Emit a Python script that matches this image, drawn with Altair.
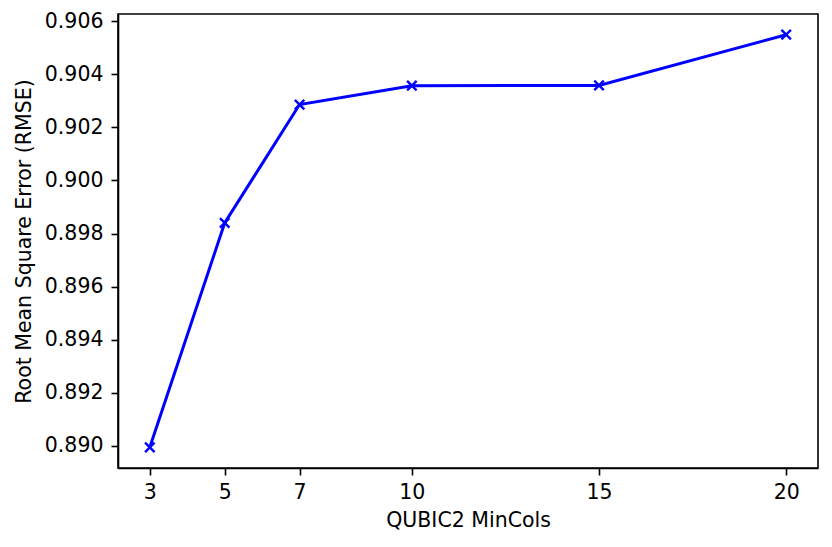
import altair as alt
import pandas as pd

min_cols = [3, 5, 7, 10, 15, 20]
rmse = [0.88995, 0.89840, 0.90286, 0.90357, 0.90358, 0.90549]
x_ticks = [3, 5, 7, 10, 15, 20]
y_ticks = [0.890, 0.892, 0.894, 0.896, 0.898, 0.900, 0.902, 0.904, 0.906]

df = pd.DataFrame({"MinCols": min_cols, "RMSE": rmse})

FONT = "DejaVu Sans"
FS = 20.5

common_axis = dict(
    grid=False, tickSize=7, tickWidth=1.6, tickColor="black",
    domainColor="black", domainWidth=1.6, labelFontSize=FS,
    titleFontSize=FS, labelFont=FONT, titleFont=FONT, labelColor="black",
    titleColor="black", titleFontWeight="normal", labelFlush=False,
)

x_enc = alt.X(
    "MinCols:Q",
    title="QUBIC2 MinCols",
    scale=alt.Scale(domain=[2.15, 20.85], nice=False, zero=False),
    axis=alt.Axis(values=x_ticks, format="d", labelPadding=7,
                  titlePadding=8, **common_axis),
)
y_enc = alt.Y(
    "RMSE:Q",
    title="Root Mean Square Error (RMSE)",
    scale=alt.Scale(domain=[0.88917, 0.90627], nice=False, zero=False),
    axis=alt.Axis(values=y_ticks, format=".3f", labelPadding=8,
                  titlePadding=10, **common_axis),
)

base = alt.Chart(df).encode(x=x_enc, y=y_enc)

line = base.mark_line(color="#0000ff", strokeWidth=3)
points = base.mark_point(
    shape="M-1,-1L1,1M-1,1L1,-1", size=90, filled=False,
    color="#0000ff", strokeWidth=2.4, opacity=1,
)

chart = (
    alt.layer(line, points)
    .properties(
        width=700,
        height=454,
        autosize=alt.AutoSizeParams(type="none"),
        padding={"left": 110, "top": 6, "right": 6, "bottom": 70},
        background="white",
    )
    .configure_view(stroke="black", strokeWidth=1.6)
)

chart.save("out.html", embed_options={"renderer": "svg", "actions": False})
